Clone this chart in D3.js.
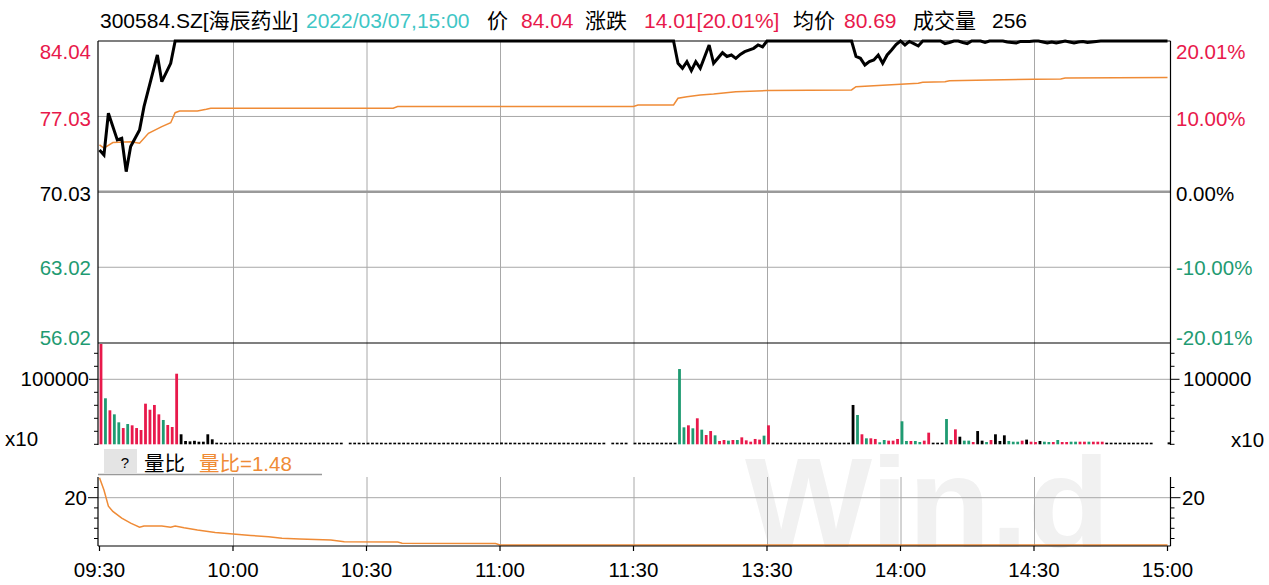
<!DOCTYPE html>
<html><head><meta charset="utf-8">
<script src="https://cdn.jsdelivr.net/npm/d3@7"></script>
<style>
body{margin:0;background:#fff}
svg{display:block}
text{font-family:"Liberation Sans","Noto Sans CJK SC",Arial,sans-serif}
</style>
</head><body>
<svg id="c" width="1269" height="585"></svg>
<script>
// ---------------- DATA ----------------
const headerTexts = ["300584.SZ[海辰药业]","2022/03/07,15:00","价","84.04","涨跌","14.01[20.01%]","均价","80.69","成交量","256"];
const priceTicks = [84.04, 77.03, 70.03, 63.02, 56.02];
const pctLabels = ["20.01%","10.00%","0.00%","-10.00%","-20.01%"];
const timeLabels = ["09:30","10:00","10:30","11:00","11:30","13:30","14:00","14:30","15:00"];
const timeIdx = [0,30,60,90,120,150,180,210,240];
const volLabel = "100000";
const volUnit = "x10";
const ratioTitle = "量比";
const ratioValueText = "量比=1.48";
const watermark = "Win.d";

// price vertices [minute index, price]
const pricePts = [[0,73.92],[1,73.45],[2,77.33],[4,74.85],[5,75.0],[6,71.9],[7,74.23],[9,75.78],[10,77.94],[13,82.74],[14,80.26],[16,81.97],[17,84.04],
[129,84.04],[130,81.97],[131,81.5],[132,82.12],[133,81.28],[134,82.12],[135,81.5],[137,83.67],[138,81.97],[140,82.95],[141,82.6],[142,82.74],[143,82.43],[144,82.8],[145,83.05],[147,83.36],[148,83.67],[149,83.5],[150,84.04],
[169,84.04],[170,82.6],[171,82.43],[172,81.81],[173,82.12],[174,82.28],[175,82.74],[176,81.97],[177,82.74],[178,83.2],[179,83.7],[180,84.04],[181,83.67],[182,84.0],[183,83.8],[184,83.58],[185,84.04],
[189,84.04],[190,83.8],[191,83.9],[192,84.04],[193,84.04],[194,83.9],[195,83.8],[196,84.04],[198,84.04],[199,83.9],[200,84.04],
[203,84.04],[204,83.95],[205,83.9],[206,83.85],[207,84.0],[209,84.0],[210,84.04],
[211,84.04],[212,83.95],[213,83.85],[214,83.95],[215,83.85],[216,83.95],[217,84.04],[218,83.95],[219,83.85],[220,83.95],[221,84.0],[222,83.9],[223,83.95],[224,84.0],[225,84.04],[240,84.04]];

// average price vertices
const avgPts = [[0,74.38],[1,74.08],[3,74.6],[7,74.69],[9,74.54],[11,75.47],[14,76.08],[16,76.45],[17,77.38],[18,77.54],[22,77.54],[24,77.7],[25,77.79],[66,77.79],[67,77.95],[120,77.95],[121,78.1],[129,78.1],[130,78.72],[132,78.87],[135,79.03],[138,79.12],[143,79.33],[150,79.43],[169,79.49],[170,79.8],[180,80.03],[184,80.11],[185,80.2],[190,80.26],[191,80.35],[200,80.42],[210,80.48],[216,80.51],[217,80.6],[240,80.66]];

// volume ratio vertices
const ratioPts = [[0,27.8],[1,23.0],[2,16.7],[3,14.6],[5,12.0],[7,10.0],[9,8.4],[10,8.9],[14,8.9],[16,8.4],[17,8.9],[19,8.2],[22,7.3],[26,6.4],[30,5.75],[34,5.2],[38,4.7],[41,4.1],[45,3.8],[52,3.4],[55,2.75],[67,2.6],[68,2.1],[89,2.0],[90,1.5],[240,1.48]];

// per-minute volume (241 minutes)
const volumes = [
154300,70800,52300,46100,33800,25000,31200,29200,25000,22000,
62500,53200,60500,46100,37400,29700,26600,108600,15400,5100,
4500,5400,4000,4000,15400,7700,2500,2500,2300,2500,
2500,2500,2300,2500,2500,2500,2300,2500,2500,2500,
2500,2300,2500,2500,2500,2500,2300,2500,2500,2500,
2500,2500,2300,2500,2500,0,2500,2500,2500,2300,
2500,2500,2500,2500,2300,2500,2500,2500,2500,2500,
2300,2500,2500,2500,2500,2500,2300,2500,2500,2500,
2500,2500,2300,2500,2500,2500,2500,2500,2300,2500,
2800,2500,2500,2500,2300,2500,2500,2500,2500,2500,
2300,2500,2500,2500,2500,2500,2300,2500,2500,2500,
2500,2500,2300,2500,0,2500,2500,2500,2500,0,
2500,2500,2500,2300,2500,2500,2500,2500,2500,2500,
115800,26100,29200,24600,40000,22500,14300,20400,13800,5100,
6600,5600,6600,6600,10700,6100,4000,8200,7200,13300,
29200,2500,2500,2500,2300,2500,2500,2500,2500,2500,
2300,2500,2500,2500,2500,2500,2500,2500,2500,60500,
45100,15400,9200,9200,8200,3100,6600,5600,5600,8200,
35400,5100,5100,5100,3500,5600,17900,2500,2500,2500,
38900,6600,23000,11700,5600,5600,3500,20400,5600,3500,
6600,15400,5100,13800,5100,4000,4000,5600,7200,4000,
3500,5100,4000,3500,3500,6600,3500,3500,4000,4000,
4000,4000,4000,4000,4000,4000,2500,2500,2500,2500,
2500,2500,2500,2500,2500,2500,2500,0,0,0,
3000];

// per-minute bar direction: + up (red), - down (green), 0 unchanged (black)
const volDir = [
"+-+--+-+++","++++-+++00",
"0000000000","0000000000","0000000000","0000000000","0000000000","0000000000",
"0000000000","0000000000","0000000000","0000000000","0000000000",
"--+-+-++-+","+-+-+++++-","+000000000","0000000000",
"-+-++--+++","--+--++000","-++0--+00-","+000---+0+","+0--+-++--","++-+++0000",
"0000000000","0"].join("");

// ---------------- LAYOUT ----------------
const W = 1269, H = 585;
const L = 98, R = 1170.5;
const RED = "#e8194b", GREEN = "#1f9b72", TEAL = "#3fc6c6", ORANGE = "#ef8b36";
const GRID = "#a8a8a8";
const FS = 20.5;

const svg = d3.select("#c");
svg.append("rect").attr("width",W).attr("height",H).attr("fill","#fff");

const x = d3.scaleLinear().domain([0,240]).range([99.5,1167.5]);
const yP = d3.scaleLinear().domain([56.02,84.04]).range([342.6,41]);
const yV = d3.scaleLinear().domain([0,100000]).range([444.3,379.3]);
const yR = d3.scaleLinear().domain([0,28]).range([548.7,477.3]);

// watermark
svg.append("text").attr("x",745).attr("y",547).attr("font-size",128).attr("font-weight","bold")
  .attr("fill","#f1f1f1").attr("textLength",365).attr("lengthAdjust","spacingAndGlyphs").text(watermark);

// vertical grid
const gIdx = timeIdx.slice(1,-1);
const g = svg.append("g");
gIdx.forEach(i=>{
  g.append("line").attr("x1",x(i)+0.5).attr("x2",x(i)+0.5).attr("y1",41).attr("y2",444.5).attr("stroke",GRID).attr("stroke-width",1);
  g.append("line").attr("x1",x(i)+0.5).attr("x2",x(i)+0.5).attr("y1",477).attr("y2",546).attr("stroke",GRID).attr("stroke-width",1);
});
// horizontal grid price
[priceTicks[1],priceTicks[3]].forEach(v=>{
  g.append("line").attr("x1",L).attr("x2",R).attr("y1",yP(v)).attr("y2",yP(v)).attr("stroke",GRID).attr("stroke-width",1);
});
g.append("line").attr("x1",L).attr("x2",R).attr("y1",yP(priceTicks[2])).attr("y2",yP(priceTicks[2])).attr("stroke","#9a9a9a").attr("stroke-width",2.5);
// volume grid
g.append("line").attr("x1",L).attr("x2",R).attr("y1",yV(100000)).attr("y2",yV(100000)).attr("stroke",GRID).attr("stroke-width",1);
// ratio grid
g.append("line").attr("x1",L).attr("x2",R).attr("y1",yR(20)).attr("y2",yR(20)).attr("stroke",GRID).attr("stroke-width",1);

// volume bars
const colorOf = c => c==="+"?RED:(c==="-"?GREEN:"#000");
svg.append("g").selectAll("rect").data(volumes).join("rect")
  .attr("x",(d,i)=>x(i)+0.1).attr("width",2.8)
  .attr("y",d=>yV(d)).attr("height",d=>yV(0)-yV(d))
  .attr("fill",(d,i)=>colorOf(volDir[i]));

// avg line
const line = d3.line().x(d=>x(d[0])).y(d=>yP(d[1]));
svg.append("path").attr("d",line(avgPts)).attr("fill","none").attr("stroke",ORANGE).attr("stroke-width",1.5);
// price line
svg.append("path").attr("d",line(pricePts)).attr("fill","none").attr("stroke","#000").attr("stroke-width",3).attr("stroke-linejoin","miter").attr("stroke-miterlimit",3);
// ratio line
const rline = d3.line().x(d=>x(d[0])).y(d=>yR(d[1]));
svg.append("path").attr("d",rline(ratioPts)).attr("fill","none").attr("stroke",ORANGE).attr("stroke-width",1.5);

// frame
const f = svg.append("g").attr("stroke","#000").attr("stroke-width",1.2);
f.append("line").attr("x1",L).attr("x2",R).attr("y1",41).attr("y2",41);
f.append("line").attr("x1",L).attr("x2",R).attr("y1",343).attr("y2",343);
f.append("line").attr("x1",L).attr("x2",L).attr("y1",41).attr("y2",445);
f.append("line").attr("x1",R).attr("x2",R).attr("y1",41).attr("y2",445);
f.append("line").attr("x1",L).attr("x2",L).attr("y1",477).attr("y2",546);
f.append("line").attr("x1",R).attr("x2",R).attr("y1",477).attr("y2",546);
f.append("line").attr("x1",L).attr("x2",R).attr("y1",546).attr("y2",546);

// volume ticks
d3.range(0,160000,20000).forEach(v=>{
  const len = v===100000?9:4;
  f.append("line").attr("x1",L-len).attr("x2",L).attr("y1",yV(v)).attr("y2",yV(v)).attr("stroke-width",1);
  f.append("line").attr("x1",R).attr("x2",R+len).attr("y1",yV(v)).attr("y2",yV(v)).attr("stroke-width",1);
});
// ratio ticks
[4,8,12,16,20,24].forEach(v=>{
  const len = v===20?10:4;
  f.append("line").attr("x1",L-len).attr("x2",L).attr("y1",yR(v)).attr("y2",yR(v)).attr("stroke-width",1);
  f.append("line").attr("x1",R).attr("x2",R+len).attr("y1",yR(v)).attr("y2",yR(v)).attr("stroke-width",1);
});
// x ticks
timeIdx.forEach(i=>{
  f.append("line").attr("x1",x(i)).attr("x2",x(i)).attr("y1",546).attr("y2",551).attr("stroke-width",1.2);
});

// texts
const T = (s,xx,yy,col,anchor,fs)=>svg.append("text").attr("x",xx).attr("y",yy).attr("fill",col||"#000")
  .attr("font-size",fs||FS).attr("text-anchor",anchor||"start").text(s);

const hdrX = [100,306,487,521,585,644,793,844,913,992];
const hdrC = ["#000",TEAL,"#000",RED,"#000",RED,"#000",RED,"#000","#000"];
headerTexts.forEach((s,k)=>T(s,hdrX[k],28,hdrC[k],"start",21));

const pCol = [RED,RED,"#000",GREEN,GREEN];
const labY = [59,126,201,275,345];
priceTicks.forEach((v,k)=>{
  T(v.toFixed(2),91,labY[k],pCol[k],"end");
  T(pctLabels[k],1176,labY[k],pCol[k],"start");
});
T(volLabel,89,yV(100000)+7,"#000","end");
T(volLabel,1183,yV(100000)+7,"#000","start");
T(volUnit,5,446,"#000","start");
T(volUnit,1231,447,"#000","start");
T("20",87,yR(20)+7,"#000","end");
T("20",1182,yR(20)+7,"#000","start");
timeIdx.forEach((i,k)=>T(timeLabels[k],x(i),577,"#000","middle"));

// ratio header
svg.append("rect").attr("x",104).attr("y",449).attr("width",33).attr("height",24).attr("fill","#e4e4e4");
svg.append("text").attr("x",125).attr("y",468).attr("font-size",15).attr("text-anchor","middle").attr("fill","#000").text("?");
T(ratioTitle,144,471,"#000");
T(ratioValueText,199,471,ORANGE);
svg.append("line").attr("x1",L).attr("x2",322).attr("y1",474.5).attr("y2",474.5).attr("stroke","#999").attr("stroke-width",1.5);
</script>
</body></html>
